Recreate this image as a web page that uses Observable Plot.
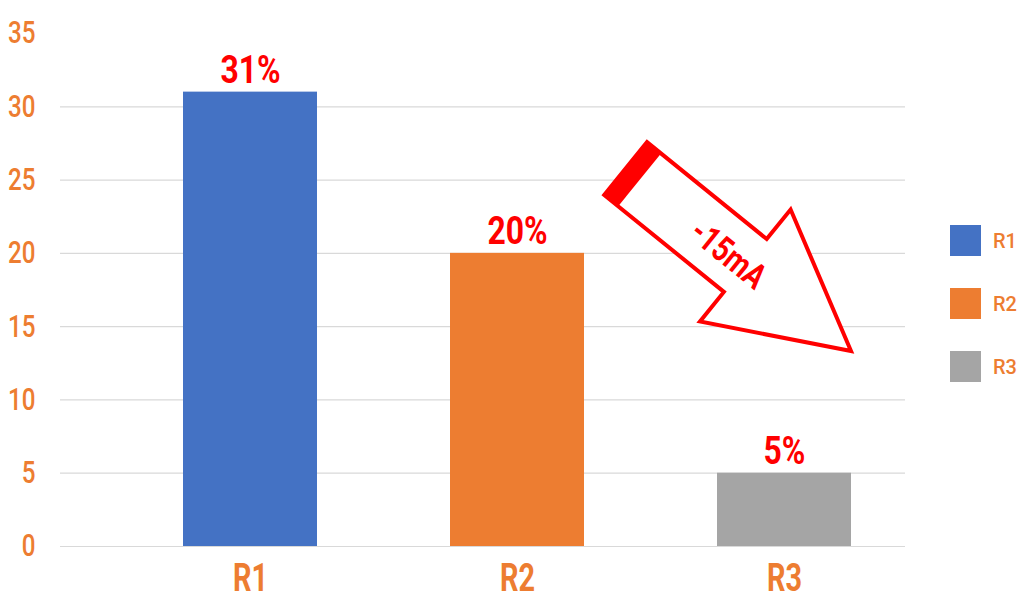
<!DOCTYPE html>
<html>
<head>
<meta charset="utf-8">
<script src="https://cdn.jsdelivr.net/npm/d3@7"></script>
<script src="https://cdn.jsdelivr.net/npm/@observablehq/plot@0.6"></script>
<style>
  html, body { margin: 0; padding: 0; background: #fff; }
  #wrap { position: relative; width: 1024px; height: 600px; overflow: hidden; }
  #legend { position: absolute; left: 950px; top: 225px; font-family: Roboto, sans-serif; }
  .item { display: flex; align-items: center; height: 31px; margin-bottom: 32px; }
  .sw { width: 31px; height: 31px; }
  .lab { margin-left: 12px; color: #ED7D31; font-size: 20px; font-weight: 500; }
</style>
</head>
<body>
<div id="wrap"><div id="legend"></div></div>
<script>
const categories = ["R1", "R2", "R3"];
const values = [31, 20, 5];
const labels = ["31%", "20%", "5%"];
const colors = ["#4472C4", "#ED7D31", "#A5A5A5"];
const yTicks = [0, 5, 10, 15, 20, 25, 30, 35];
const gridTicks = [0, 5, 10, 15, 20, 25, 30];
const arrowText = "-15mA";

const data = categories.map((c, i) => ({cat: c, value: values[i], label: labels[i]}));
const font = 'Roboto, sans-serif';

const chart = Plot.plot({
  width: 1024,
  height: 600,
  marginLeft: 60,
  marginRight: 119,
  marginTop: 33,
  marginBottom: 54,
  style: {fontFamily: font, background: "#fff"},
  x: {domain: categories, paddingInner: 0.5, paddingOuter: 0, insetLeft: 122, insetRight: 54},
  y: {domain: [0, 35]},
  color: {domain: categories, range: colors},
  marks: [
    Plot.ruleY(gridTicks, {stroke: "#d9d9d9", strokeWidth: 1.2}),
    Plot.barY(data, {x: "cat", y: "value", fill: "cat"}),
    Plot.text(data, {x: "cat", y: "value", text: "label", lineAnchor: "bottom", dy: -9, fill: "#FF0000", fontSize: 38, fontWeight: "bold"}),
    Plot.axisY(yTicks, {tickSize: 0, tickPadding: 25, fill: "#ED7D31", fontSize: 31, fontWeight: 500, label: null}),
    Plot.axisX({tickSize: 0, tickPadding: 18, fill: "#ED7D31", fontSize: 38, fontWeight: "bold", label: null})
  ]
});

document.getElementById("wrap").prepend(chart);

// condense text horizontally (reference uses a narrow typeface)
function condense(sel, sx) {
  sel.each(function () {
    const t = this.getAttribute("transform") || "";
    const x = this.getAttribute("x");
    let tx = 0;
    if (x != null && !isNaN(+x)) { tx = +x; this.removeAttribute("x"); }
    this.setAttribute("transform", `${t} translate(${tx},0) scale(${sx},1)`);
  });
}
const svg = d3.select(chart);
condense(svg.selectAll('g[aria-label="text"] text'), 0.84);
condense(svg.selectAll('g[aria-label="y-axis tick label"] text'), 0.78);
condense(svg.selectAll('g[aria-label="x-axis tick label"] text'), 0.76);

// Arrow annotation, anchored to the scales: tip at the right edge of the R3 bar
const xs = chart.scale("x"), ys = chart.scale("y");
const tipX = xs.apply("R3") + xs.bandwidth;
const tipY = ys.apply(13.3);
const angle = 39; // degrees
const L = 290, headBase = 154, bodyHalf = 34, headHalf = 72, tail = 18;
const g = svg.append("g")
  .attr("transform", `translate(${tipX},${tipY}) rotate(${angle}) translate(${-L},0)`);
g.append("path")
  .attr("d", `M0,${-bodyHalf}L${headBase},${-bodyHalf}L${headBase},${-headHalf}L${L},0L${headBase},${headHalf}L${headBase},${bodyHalf}L0,${bodyHalf}Z`)
  .attr("fill", "#fff").attr("stroke", "#FF0000").attr("stroke-width", 4).attr("stroke-linejoin", "miter");
g.append("rect")
  .attr("x", 0).attr("y", -bodyHalf).attr("width", tail).attr("height", bodyHalf * 2)
  .attr("fill", "#FF0000");
g.append("text")
  .attr("transform", "translate(134,2) scale(0.8,1)")
  .attr("text-anchor", "middle").attr("dominant-baseline", "central")
  .attr("fill", "#FF0000").attr("font-size", 35).attr("font-weight", "bold")
  .attr("font-family", font)
  .text(arrowText);

// Legend
const legend = d3.select("#legend");
categories.forEach((c, i) => {
  const it = legend.append("div").attr("class", "item");
  it.append("div").attr("class", "sw").style("background", colors[i]);
  it.append("div").attr("class", "lab").text(c);
});
</script>
</body>
</html>
